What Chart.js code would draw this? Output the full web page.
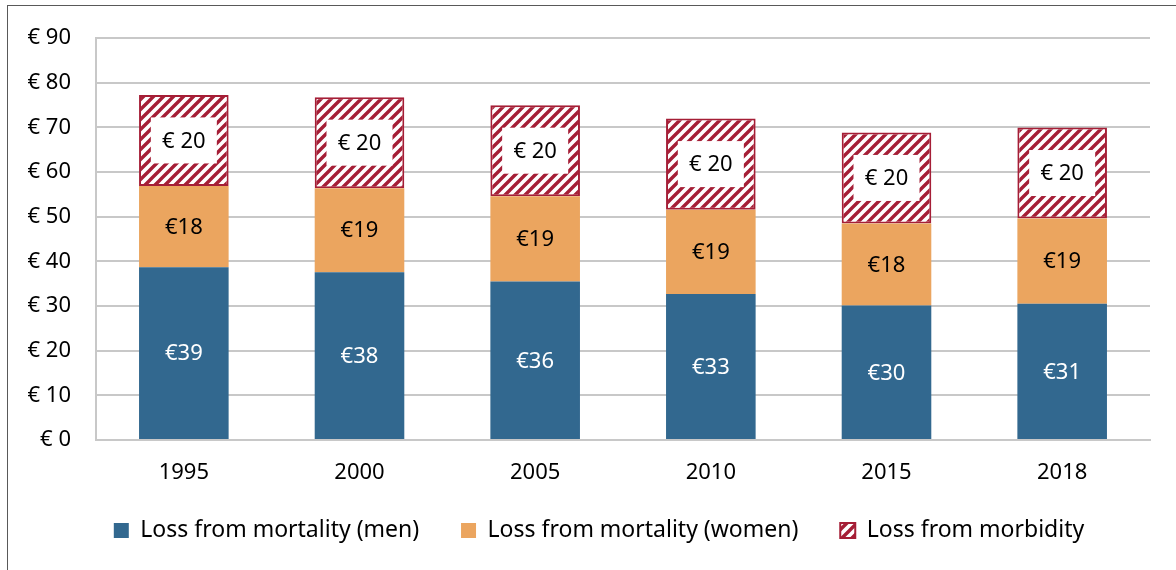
<!DOCTYPE html>
<html>
<head>
<meta charset="utf-8">
<script src="https://cdn.jsdelivr.net/npm/chart.js@4.4.1/dist/chart.umd.min.js"></script>
<style>
  body { margin: 0; background: #fff; }
  #wrap { position: relative; width: 1176px; height: 570px; }
  #frame { position: absolute; left: 7px; top: 5px; width: 1180px; height: 580px; border: 1.5px solid #595959; box-sizing: border-box; pointer-events: none; }
</style>
</head>
<body>
<div id="wrap">
  <canvas id="costChart" width="1176" height="570"></canvas>
  <div id="frame"></div>
</div>
<script>
const years = ['1995', '2000', '2005', '2010', '2015', '2018'];
const menLoss = [38.7, 37.6, 35.5, 32.7, 30.1, 30.5];
const womenLoss = [18.2, 18.8, 19.1, 18.9, 18.4, 19.1];
const morbidityLoss = [20.4, 20.4, 20.4, 20.4, 20.4, 20.4];
const seriesNames = ['Loss from mortality (men)', 'Loss from mortality (women)', 'Loss from morbidity'];
const yTicks = [0, 10, 20, 30, 40, 50, 60, 70, 80, 90];

const FONT = '"Noto Sans", "Open Sans", sans-serif';

// red diagonal hatch for the morbidity bars
function makeHatch() {
    const c = document.createElement('canvas');
    c.width = 10;
    c.height = 10;
    const g = c.getContext('2d');
    g.fillStyle = '#ffffff';
    g.fillRect(0, 0, 10, 10);
    g.strokeStyle = '#a51e36';
    g.lineWidth = 3.4;
    g.beginPath();
    g.moveTo(-2, 12); g.lineTo(12, -2);
    g.moveTo(-2, 2); g.lineTo(2, -2);
    g.moveTo(8, 12); g.lineTo(12, 8);
    g.stroke();
    return g.createPattern(c, 'repeat');
}

// draws the value labels inside each segment
const segmentLabels = {
    id: 'segmentLabels',
    afterDatasetsDraw(chart) {
        const ctx = chart.ctx;
        ctx.save();
        ctx.textAlign = 'center';
        ctx.textBaseline = 'middle';
        ctx.font = '22px ' + FONT;
        chart.data.datasets.forEach((ds, i) => {
            const meta = chart.getDatasetMeta(i);
            meta.data.forEach((bar, j) => {
                const v = Math.round(ds.data[j]);
                const cy = (bar.y + bar.base) / 2;
                if (i === 2) {
                    ctx.fillStyle = '#ffffff';
                    ctx.fillRect(bar.x - 33, cy - 23, 66, 46);
                    ctx.fillStyle = '#000000';
                    ctx.fillText('€ ' + v, bar.x, cy + 1);
                } else {
                    ctx.fillStyle = i === 0 ? '#ffffff' : '#000000';
                    ctx.fillText('€' + v, bar.x, cy + 1);
                }
            });
        });
        ctx.restore();
    }
};

// legend in the original sits a bit right of the canvas centre
const legendShift = {
    id: 'legendShift',
    afterLayout(chart) {
        chart.legend.left += 24;
        chart.legend.right += 24;
    }
};

const ctx = document.getElementById('costChart').getContext('2d');
const chart = new Chart(ctx, {
    type: 'bar',
    data: {
        labels: years,
        datasets: [
            { label: seriesNames[0], data: menLoss, backgroundColor: '#32688f', borderWidth: 0 },
            { label: seriesNames[1], data: womenLoss, backgroundColor: '#eba55f', borderWidth: 0 },
            { label: seriesNames[2], data: morbidityLoss, backgroundColor: makeHatch(), borderColor: '#a51e36', borderWidth: 2, borderSkipped: false }
        ]
    },
    options: {
        responsive: false,
        animation: false,
        layout: { padding: { top: 35, right: 26, left: 0, bottom: 18 } },
        datasets: { bar: { barPercentage: 0.51, categoryPercentage: 1 } },
        scales: {
            x: {
                stacked: true,
                grid: { display: false, drawTicks: false },
                border: { color: '#c8c8c8', width: 2 },
                ticks: { color: '#000', font: { family: FONT, size: 22 }, padding: 20 },
                afterFit(scale) { scale.height = 67; }
            },
            y: {
                stacked: true,
                min: 0,
                max: 90,
                afterBuildTicks(scale) { scale.ticks = yTicks.map(v => ({ value: v })); },
                grid: { color: '#c8c8c8', lineWidth: 2, drawTicks: false },
                border: { color: '#c8c8c8', width: 2 },
                ticks: {
                    color: '#000',
                    font: { family: FONT, size: 22 },
                    padding: 25,
                    callback: v => '€ ' + v
                },
                afterFit(scale) { scale.width = 96; }
            }
        },
        plugins: {
            legend: {
                position: 'bottom',
                labels: {
                    color: '#000',
                    font: { family: FONT, size: 23 },
                    boxWidth: 15,
                    boxHeight: 15,
                    padding: 12,
                    generateLabels(chart) {
                        const items = Chart.defaults.plugins.legend.labels.generateLabels(chart);
                        items.forEach((it, k) => {
                            if (k < items.length - 1) it.text = it.text + '     ';
                        });
                        return items;
                    }
                }
            },
            tooltip: { enabled: false }
        }
    },
    plugins: [segmentLabels, legendShift]
});
</script>
</body>
</html>
